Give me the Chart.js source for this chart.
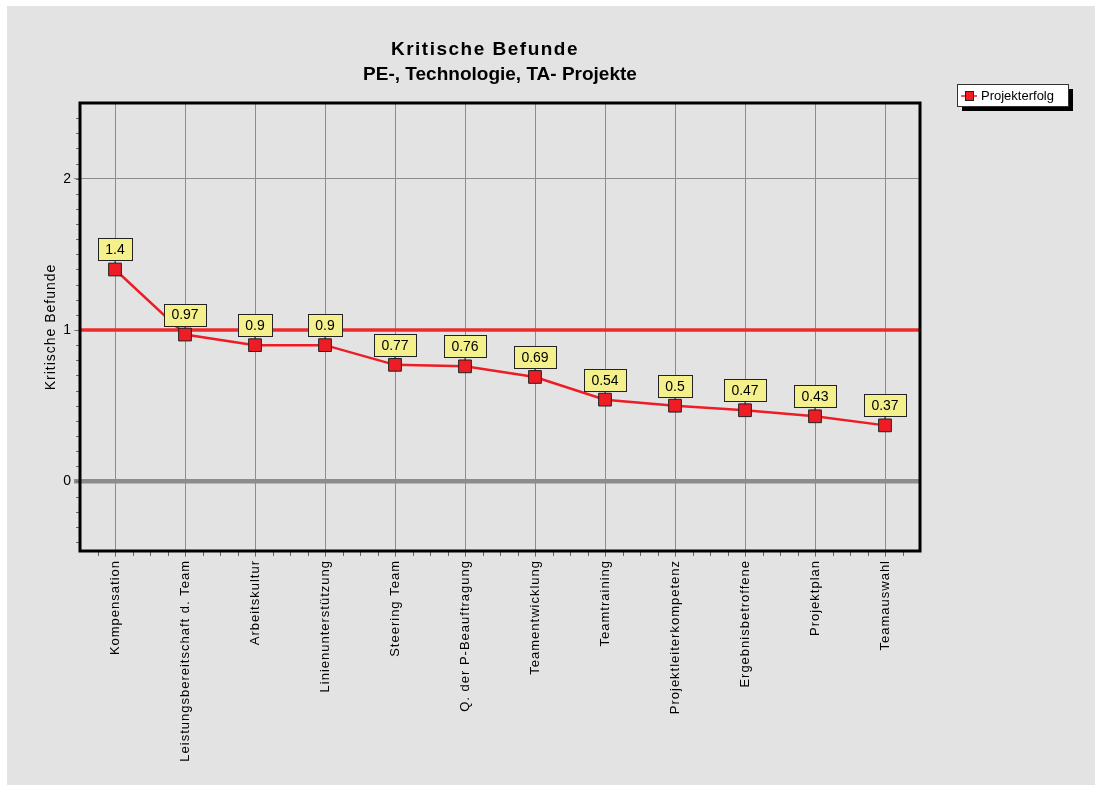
<!DOCTYPE html>
<html>
<head>
<meta charset="utf-8">
<script src="https://cdn.jsdelivr.net/npm/chart.js@4/dist/chart.umd.min.js"></script>
<style>
  html, body { margin: 0; padding: 0; background: #ffffff; }
  #wrap { width: 1095px; height: 785px; }
</style>
</head>
<body>
<div id="wrap"><canvas id="chart" width="1095" height="785"></canvas></div>
<script>
// data
var categories = ["Kompensation", "Leistungsbereitschaft d. Team", "Arbeitskultur", "Linienunterstützung",
  "Steering Team", "Q. der P-Beauftragung", "Teamentwicklung", "Teamtraining",
  "Projektleiterkompetenz", "Ergebnisbetroffene", "Projektplan", "Teamauswahl"];
var projekterfolg = [1.4, 0.97, 0.9, 0.9, 0.77, 0.76, 0.69, 0.54, 0.5, 0.47, 0.43, 0.37];
var threshold = 1;
var titleLines = ["Kritische Befunde", "PE-, Technologie, TA- Projekte"];
var yTitle = "Kritische Befunde";
var seriesName = "Projekterfolg";

var FONT = "'Liberation Sans', Arial, Helvetica, sans-serif";
var RED = "#ee1c24";

var deco = {
  id: 'deco',
  beforeDraw: function (chart) {
    var c = chart.ctx;
    c.save();
    c.fillStyle = "#e3e3e3";
    c.fillRect(7, 6, chart.width - 7, chart.height - 6);
    c.restore();
    // the original renders axis texts with a bit of extra tracking
    c.letterSpacing = "1px";
  },
  beforeDatasetsDraw: function (chart) {
    var c = chart.ctx, a = chart.chartArea, y = chart.scales.y.getPixelForValue(threshold);
    c.save();
    c.strokeStyle = "#ee2a2a";
    c.lineWidth = 3.5;
    c.beginPath();
    c.moveTo(a.left, y);
    c.lineTo(a.right, y);
    c.stroke();
    c.restore();
  },
  afterDatasetsDraw: function (chart) {
    var c = chart.ctx;
    var meta = chart.getDatasetMeta(0);
    c.save();
    c.letterSpacing = "0px";
    c.font = "14px " + FONT;
    c.textAlign = "center";
    c.textBaseline = "middle";
    meta.data.forEach(function (pt, i) {
      var txt = String(projekterfolg[i]);
      var w = c.measureText(txt).width + 15;
      var h = 22;
      var bottom = pt.y - 9;
      c.strokeStyle = "#222";
      c.lineWidth = 1;
      c.beginPath();
      c.moveTo(pt.x, bottom);
      c.lineTo(pt.x, pt.y - 6);
      c.stroke();
      c.fillStyle = "#f4f08c";
      c.fillRect(Math.round(pt.x - w / 2) + 0.5, Math.round(bottom - h) + 0.5, Math.round(w), h);
      c.strokeRect(Math.round(pt.x - w / 2) + 0.5, Math.round(bottom - h) + 0.5, Math.round(w), h);
      c.fillStyle = "#000";
      c.fillText(txt, pt.x, bottom - h / 2 + 1);
    });
    c.restore();
  },
  afterDraw: function (chart) {
    var c = chart.ctx, a = chart.chartArea, x = chart.scales.x, y = chart.scales.y;
    c.save();
    // minor ticks
    c.strokeStyle = "#666";
    c.lineWidth = 1;
    c.beginPath();
    var step = (x.getPixelForValue(1) - x.getPixelForValue(0)) / 4;
    for (var px = a.left + step; px < a.right - 1; px += step) {
      c.moveTo(Math.round(px) + 0.5, a.bottom);
      c.lineTo(Math.round(px) + 0.5, a.bottom + 5);
    }
    for (var v = -0.4; v < 2.5; v += 0.1) {
      var py = Math.round(y.getPixelForValue(v)) + 0.5;
      c.moveTo(a.left - 4, py);
      c.lineTo(a.left, py);
    }
    c.stroke();
    // plot frame
    c.strokeStyle = "#000";
    c.lineWidth = 3;
    c.strokeRect(a.left, a.top, a.right - a.left, a.bottom - a.top);
    // title
    var cx = (a.left + a.right) / 2;
    c.fillStyle = "#000";
    c.font = "bold 19px " + FONT;
    c.textAlign = "center";
    c.textBaseline = "middle";
    c.letterSpacing = "1.5px";
    c.fillText(titleLines[0], cx - 15, 50);
    c.letterSpacing = "0px";
    c.fillText(titleLines[1], cx, 75);
    // legend
    var lx = 957, ly = 84, lw = 111, lh = 22;
    c.fillStyle = "#000";
    c.fillRect(lx + 5, ly + 5, lw, lh);
    c.fillStyle = "#fff";
    c.fillRect(lx, ly, lw, lh);
    c.lineWidth = 1;
    c.strokeStyle = "#333";
    c.strokeRect(lx + 0.5, ly + 0.5, lw, lh);
    c.strokeStyle = RED;
    c.lineWidth = 1.5;
    c.beginPath();
    c.moveTo(lx + 4, ly + 12);
    c.lineTo(lx + 20, ly + 12);
    c.stroke();
    c.fillStyle = RED;
    c.fillRect(lx + 8, ly + 7, 9, 10);
    c.strokeStyle = "#222";
    c.lineWidth = 1;
    c.strokeRect(lx + 8.5, ly + 7.5, 8, 9);
    c.fillStyle = "#000";
    c.font = "13px " + FONT;
    c.textAlign = "left";
    c.fillText(seriesName, lx + 24, ly + 12);
    c.restore();
  }
};

new Chart(document.getElementById("chart"), {
  type: 'line',
  data: {
    labels: categories,
    datasets: [{
      label: seriesName,
      data: projekterfolg,
      borderColor: RED,
      borderWidth: 2.5,
      backgroundColor: RED,
      pointStyle: 'rect',
      pointRadius: 9,
      pointHoverRadius: 9,
      pointBorderColor: "#222",
      pointBorderWidth: 1,
      tension: 0
    }]
  },
  options: {
    responsive: false,
    animation: false,
    events: [],
    layout: { padding: { left: 0, top: 103, right: 175, bottom: 0 } },
    plugins: {
      legend: { display: false },
      title: { display: false },
      tooltip: { enabled: false }
    },
    scales: {
      x: {
        type: 'category',
        offset: true,
        afterFit: function (s) { s.height = 234; },
        grid: { offset: false, color: "#8c8c8c", lineWidth: 1, tickLength: 6, drawOnChartArea: true },
        border: { display: false },
        ticks: {
          color: "#000",
          font: { family: FONT, size: 13 },
          minRotation: 90, maxRotation: 90,
          autoSkip: false, padding: 3
        }
      },
      y: {
        min: -0.46,
        max: 2.5,
        afterFit: function (s) { s.width = 80; },
        grid: {
          color: "#8c8c8c",
          lineWidth: function (ctx) { return ctx.tick && ctx.tick.value === 0 ? 4.5 : 1; },
          tickLength: 6
        },
        border: { display: false },
        ticks: {
          stepSize: 1,
          includeBounds: false,
          color: "#000",
          font: { family: FONT, size: 14 },
          padding: 2
        },
        title: {
          display: true,
          text: yTitle,
          color: "#000",
          font: { family: FONT, size: 14 },
          padding: { top: 43, bottom: 0 }
        }
      }
    }
  },
  plugins: [deco]
});
</script>
</body>
</html>
